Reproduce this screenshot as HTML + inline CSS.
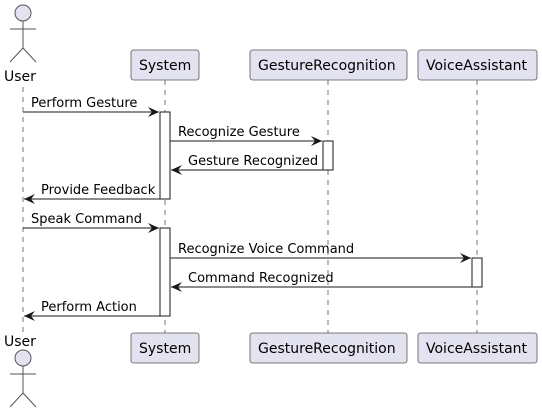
<!DOCTYPE html>
<html><head><meta charset="utf-8"><style>
html,body{margin:0;padding:0;background:#fff;width:542px;height:414px;overflow:hidden}
svg text{font-family:"DejaVu Sans","Liberation Sans",sans-serif;fill:#000}
</style></head><body>
<svg width="542" height="414" viewBox="0 0 542 414" xmlns="http://www.w3.org/2000/svg">
<defs>
<marker id="a" markerWidth="12" markerHeight="10" refX="11" refY="5" orient="auto" markerUnits="userSpaceOnUse">
<path d="M0,0 L11,5 L0,10 L4,5 Z" fill="#181818"/>
</marker>
</defs>
<g stroke="#555" stroke-width="0.8" stroke-dasharray="5,5" fill="none">
<line x1="23" y1="87" x2="23" y2="333"/>
<line x1="165" y1="80" x2="165" y2="333"/>
<line x1="328" y1="80" x2="328" y2="333"/>
<line x1="477" y1="80" x2="477" y2="333"/>
</g>
<g stroke="#555" stroke-width="1" fill="none">
<circle cx="23" cy="13" r="8" fill="#E2E2F0"/>
<line x1="23" y1="21" x2="23" y2="48"/><line x1="10" y1="29" x2="36" y2="29"/>
<line x1="23" y1="48" x2="10" y2="62"/><line x1="23" y1="48" x2="36" y2="62"/>
<circle cx="23" cy="358" r="8" fill="#E2E2F0"/>
<line x1="23" y1="366" x2="23" y2="393"/><line x1="10" y1="374" x2="36" y2="374"/>
<line x1="23" y1="393" x2="10" y2="407"/><line x1="23" y1="393" x2="36" y2="407"/>
</g>
<text x="4" y="81" font-size="14">User</text>
<text x="4" y="346" font-size="14">User</text>
<g fill="#E2E2F0" stroke="#555" stroke-width="0.8">
<rect x="131" y="50" width="68" height="30" rx="2.5"/>
<rect x="250" y="50" width="157" height="30" rx="2.5"/>
<rect x="418" y="50" width="119" height="30" rx="2.5"/>
<rect x="131" y="333" width="68" height="30" rx="2.5"/>
<rect x="250" y="333" width="157" height="30" rx="2.5"/>
<rect x="418" y="333" width="119" height="30" rx="2.5"/>
</g>
<g font-size="14">
<text x="139" y="70">System</text><text x="258" y="70">GestureRecognition</text><text x="426" y="70">VoiceAssistant</text>
<text x="139" y="353">System</text><text x="258" y="353">GestureRecognition</text><text x="426" y="353">VoiceAssistant</text>
</g>
<g fill="#fff" stroke="#181818" stroke-width="1">
<rect x="160" y="112" width="10" height="87"/>
<rect x="160" y="228" width="10" height="88"/>
<rect x="323" y="141" width="10" height="29"/>
<rect x="472" y="258" width="10" height="29"/>
</g>
<g stroke="#181818" stroke-width="1" marker-end="url(#a)">
<line x1="23" y1="112" x2="159" y2="112"/>
<line x1="170" y1="141" x2="322" y2="141"/>
<line x1="323" y1="170" x2="171" y2="170"/>
<line x1="160" y1="199" x2="24" y2="199"/>
<line x1="23" y1="228" x2="159" y2="228"/>
<line x1="170" y1="258" x2="471" y2="258"/>
<line x1="472" y1="287" x2="171" y2="287"/>
<line x1="160" y1="316" x2="24" y2="316"/>
</g>
<g font-size="13">
<text x="31" y="107">Perform Gesture</text>
<text x="178" y="136">Recognize Gesture</text>
<text x="188" y="165">Gesture Recognized</text>
<text x="41" y="194">Provide Feedback</text>
<text x="31" y="223">Speak Command</text>
<text x="178" y="253">Recognize Voice Command</text>
<text x="188" y="282">Command Recognized</text>
<text x="41" y="311">Perform Action</text>
</g>
</svg>
</body></html>
